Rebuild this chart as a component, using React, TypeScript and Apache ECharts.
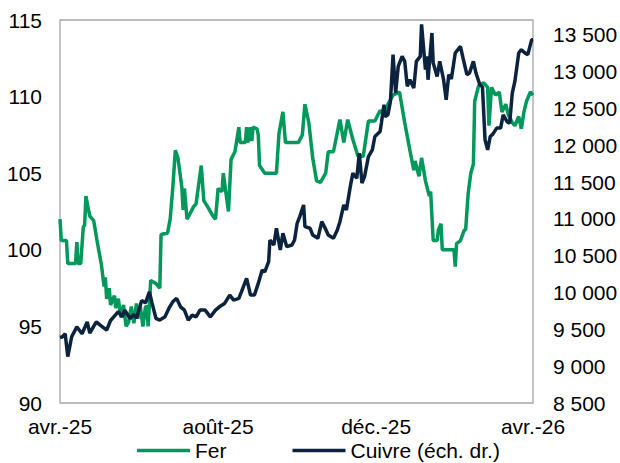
import React, { useEffect, useRef } from "react";
import * as echarts from "echarts";

const ferDates = [
  "2025-04-01","2025-04-02","2025-04-06","2025-04-07","2025-04-13","2025-04-14","2025-04-15","2025-04-17","2025-04-19","2025-04-20",
  "2025-04-21","2025-04-23","2025-04-24","2025-04-27","2025-04-30","2025-05-03","2025-05-05","2025-05-06","2025-05-07","2025-05-09",
  "2025-05-10","2025-05-13","2025-05-14","2025-05-16","2025-05-18","2025-05-20","2025-05-22","2025-05-24","2025-05-26","2025-05-28",
  "2025-05-30","2025-05-31","2025-06-02","2025-06-04","2025-06-06","2025-06-07","2025-06-08","2025-06-10","2025-06-14","2025-06-17",
  "2025-06-18","2025-06-23","2025-06-25","2025-06-27","2025-06-29","2025-07-01","2025-07-04","2025-07-05","2025-07-06","2025-07-08",
  "2025-07-10","2025-07-13","2025-07-15","2025-07-19","2025-07-21","2025-07-24","2025-07-28","2025-07-30","2025-08-01","2025-08-04",
  "2025-08-05","2025-08-09","2025-08-11","2025-08-14","2025-08-17","2025-08-18","2025-08-22","2025-08-23","2025-08-24","2025-08-26",
  "2025-08-27","2025-08-28","2025-08-31","2025-09-01","2025-09-02","2025-09-06","2025-09-15","2025-09-17","2025-09-20","2025-09-22",
  "2025-10-02","2025-10-05","2025-10-07","2025-10-10","2025-10-13","2025-10-16","2025-10-19","2025-10-23","2025-10-25","2025-10-29",
  "2025-11-03","2025-11-06","2025-11-09","2025-11-13","2025-11-17","2025-11-21","2025-11-25","2025-11-30","2025-12-04","2025-12-08",
  "2025-12-10","2025-12-14","2025-12-19","2025-12-23","2025-12-27","2025-12-30","2025-12-31","2026-01-03","2026-01-05","2026-01-08",
  "2026-01-11","2026-01-12","2026-01-14","2026-01-17","2026-01-18","2026-01-20","2026-01-21","2026-01-30","2026-01-31","2026-02-01",
  "2026-02-04","2026-02-07","2026-02-08","2026-02-10","2026-02-12","2026-02-14","2026-02-15","2026-02-18","2026-02-22","2026-02-25",
  "2026-02-26","2026-02-28","2026-03-03","2026-03-06","2026-03-08","2026-03-11","2026-03-13","2026-03-16","2026-03-18","2026-03-21",
  "2026-03-23","2026-03-25","2026-03-27","2026-03-30","2026-04-01"
];
const ferValues = [
  102.0,100.6,100.6,99.1,99.1,100.5,99.1,99.1,101.5,101.6,
  103.5,102.6,102.2,101.9,100.4,99.0,97.6,98.2,96.8,97.5,
  96.4,97.0,96.2,96.8,95.6,96.4,95.0,95.3,96.3,95.2,
  96.5,95.5,96.3,95.0,96.3,96.3,95.0,98.0,97.8,97.5,
  101.0,101.1,102.0,104.0,106.5,106.0,104.1,102.6,104.0,102.0,
  102.3,102.8,103.0,105.5,103.2,102.8,102.2,102.0,104.0,103.8,
  105.0,102.5,105.9,106.4,108.0,107.0,107.0,108.0,107.0,108.0,
  107.1,108.0,107.9,107.5,105.5,105.0,105.0,107.6,109.0,107.0,
  107.0,107.5,109.5,108.3,106.0,104.5,104.4,105.0,106.4,106.4,
  108.5,107.0,108.5,107.2,106.1,106.1,108.4,108.4,109.1,108.7,
  109.5,110.1,110.3,108.3,106.5,105.2,105.8,104.8,106.0,104.5,
  103.5,103.8,100.6,100.6,101.3,101.7,100.0,100.0,98.9,100.4,
  100.6,101.3,101.3,103.7,105.0,105.6,109.7,110.7,110.9,110.6,
  108.1,110.6,110.1,110.3,109.0,109.5,108.8,108.3,108.1,108.7,
  107.9,109.0,109.7,110.3,110.1
];

const cuivreDates = [
  "2025-04-01","2025-04-03","2025-04-05","2025-04-07","2025-04-09","2025-04-10","2025-04-14","2025-04-18","2025-04-22","2025-04-24",
  "2025-04-29","2025-05-02","2025-05-07","2025-05-10","2025-05-13","2025-05-16","2025-05-19","2025-05-21","2025-05-25","2025-05-28",
  "2025-05-30","2025-06-03","2025-06-06","2025-06-09","2025-06-11","2025-06-14","2025-06-17","2025-06-21","2025-06-24","2025-06-27",
  "2025-06-30","2025-07-03","2025-07-06","2025-07-09","2025-07-12","2025-07-15","2025-07-18","2025-07-22","2025-07-26","2025-07-30",
  "2025-08-02","2025-08-06","2025-08-10","2025-08-13","2025-08-17","2025-08-19","2025-08-23","2025-08-26","2025-08-29","2025-09-01",
  "2025-09-04","2025-09-06","2025-09-09","2025-09-10","2025-09-13","2025-09-15","2025-09-18","2025-09-20","2025-09-23","2025-09-27",
  "2025-09-29","2025-10-01","2025-10-03","2025-10-06","2025-10-07","2025-10-11","2025-10-13","2025-10-17","2025-10-20","2025-10-23",
  "2025-10-25","2025-10-29","2025-11-01","2025-11-03","2025-11-06","2025-11-08","2025-11-11","2025-11-13","2025-11-16","2025-11-18",
  "2025-11-20","2025-11-22","2025-11-25","2025-11-28","2025-11-30","2025-12-04","2025-12-05","2025-12-07","2025-12-08","2025-12-10",
  "2025-12-12","2025-12-14","2025-12-16","2025-12-18","2025-12-21","2025-12-23","2025-12-25","2025-12-27","2025-12-30","2026-01-01",
  "2026-01-04","2026-01-05","2026-01-08","2026-01-09","2026-01-10","2026-01-13","2026-01-14","2026-01-17","2026-01-19","2026-01-22",
  "2026-01-24","2026-01-26","2026-01-28","2026-01-31","2026-02-04","2026-02-06","2026-02-09","2026-02-11","2026-02-14","2026-02-16",
  "2026-02-19","2026-02-21","2026-02-23","2026-02-25","2026-02-27","2026-03-01","2026-03-04","2026-03-07","2026-03-09","2026-03-12",
  "2026-03-14","2026-03-16","2026-03-18","2026-03-21","2026-03-23","2026-03-26","2026-03-28","2026-03-31","2026-04-01"
];
const cuivreValues = [
  9390,9400,9440,9130,9310,9400,9534,9440,9600,9450,
  9600,9557,9490,9620,9680,9740,9670,9760,9648,9700,
  9650,9890,9860,10010,9860,9650,9625,9670,9784,9874,
  9920,9806,9761,9625,9693,9670,9761,9761,9670,9761,
  9806,9852,9965,9897,9920,10010,10192,9965,9965,10124,
  10305,10280,10418,10713,10645,10872,10577,10804,10622,10645,
  10713,10940,11030,11189,10894,10872,10781,10736,10962,10860,
  10781,10736,10849,10962,11189,11121,11438,11620,11552,11892,
  11484,11574,11846,11937,12118,12186,12300,12549,12390,12413,
  12594,13229,12708,13070,13206,13138,12798,12889,12776,13138,
  13206,13640,13025,13206,12889,13524,13115,12934,13138,12889,
  12617,12957,12900,13252,13342,13184,12957,12980,13138,12980,
  12821,12790,12073,11937,12118,12150,12232,12232,12413,12320,
  12300,12708,12866,13252,13297,13250,13230,13433,13433
];

const xTickDates = ["2025-04-01", "2025-08-01", "2025-12-01", "2026-04-01"];
const xTickLabels = ["avr.-25", "août-25", "déc.-25", "avr.-26"];
const seriesNames = ["Fer", "Cuivre (éch. dr.)"];

const toTs = (s: string) => {
  const [y, m, d] = s.split("-").map(Number);
  return new Date(y, m - 1, d).getTime();
};

const fmtThousands = (v: number) => String(v).replace(/\B(?=(\d{3})+(?!\d))/g, " ");

const FONT = "'Liberation Sans', Arial, sans-serif";

export default function App() {
  const ref = useRef<HTMLDivElement>(null);
  useEffect(() => {
    if (!ref.current) return;
    const chart = echarts.init(ref.current, null, { renderer: "svg" });
    const tickTs = xTickDates.map(toTs);
    const labelFor = (v: number) => {
      const i = tickTs.findIndex((t) => Math.abs(t - v) < 43200000);
      return i >= 0 ? xTickLabels[i] : "";
    };
    chart.setOption({
      animation: false,
      textStyle: { fontFamily: FONT },
      grid: {
        left: 60,
        right: 87,
        top: 20,
        bottom: 60,
        show: true,
        borderColor: "#A6A6A6",
        borderWidth: 1.3,
        backgroundColor: "transparent",
        outerBoundsMode: "none",
      },
      legend: {
        left: 137,
        top: 440,
        padding: 0,
        icon: "rect",
        itemWidth: 53,
        itemHeight: 3.5,
        itemGap: 66,
        textStyle: { fontSize: 21, color: "#000", fontFamily: FONT },
        data: seriesNames,
      },
      xAxis: {
        type: "value",
        min: tickTs[0],
        max: tickTs[tickTs.length - 1],
        axisLine: { show: false },
        axisTick: { show: false },
        splitLine: { show: false },
        axisLabel: {
          customValues: tickTs,
          formatter: (v: number) => labelFor(v),
          fontSize: 21,
          color: "#000",
          fontFamily: FONT,
          margin: 13,
          hideOverlap: false,
        },
      },
      yAxis: [
        {
          type: "value",
          min: 90,
          max: 115,
          interval: 5,
          axisLine: { show: false },
          axisTick: { show: false },
          splitLine: { show: false },
          axisLabel: { fontSize: 21, color: "#000", fontFamily: FONT, margin: 18 },
        },
        {
          type: "value",
          min: 8500,
          max: 13700,
          interval: 500,
          position: "right",
          axisLine: { show: false },
          axisTick: { show: false },
          splitLine: { show: false },
          axisLabel: {
            fontSize: 21,
            color: "#000",
            fontFamily: FONT,
            margin: 20,
            showMaxLabel: false,
            formatter: (v: number) => fmtThousands(v),
          },
        },
      ],
      series: [
        {
          name: seriesNames[0],
          type: "line",
          yAxisIndex: 0,
          symbol: "none",
          lineStyle: { width: 3.5, color: "#00985B" },
          itemStyle: { color: "#00985B" },
          data: ferDates.map((d, i) => [toTs(d), ferValues[i]]),
          z: 2,
        },
        {
          name: seriesNames[1],
          type: "line",
          yAxisIndex: 1,
          symbol: "none",
          lineStyle: { width: 3.5, color: "#0C2340" },
          itemStyle: { color: "#0C2340" },
          data: cuivreDates.map((d, i) => [toTs(d), cuivreValues[i]]),
          z: 3,
        },
      ],
    });
    return () => chart.dispose();
  }, []);
  return (
    <div
      ref={ref}
      style={{ position: "fixed", left: 0, top: 0, width: 620, height: 463, background: "#fff" }}
    />
  );
}
